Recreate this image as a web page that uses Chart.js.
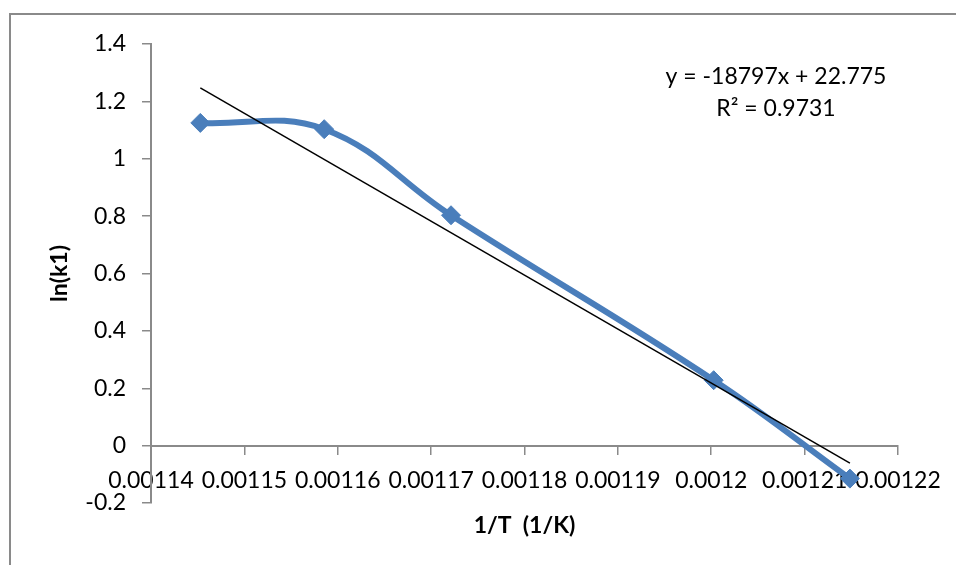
<!DOCTYPE html>
<html>
<head>
<meta charset="utf-8">
<script src="https://cdn.jsdelivr.net/npm/chart.js@4.4.1/dist/chart.umd.min.js"></script>
<style>
  html, body { margin: 0; padding: 0; background: #ffffff; }
  #wrap { position: relative; width: 956px; height: 565px; overflow: hidden; }
  #frame { position: absolute; left: 9px; top: 13px; width: 1000px; height: 600px;
           border-left: 2px solid #8a8a8a; border-top: 2px solid #8a8a8a; }
  canvas { position: absolute; left: 0; top: 0; }
</style>
</head>
<body>
<div id="wrap">
  <div id="frame"></div>
  <canvas id="c" width="956" height="565"></canvas>
</div>
<script>
// ---- data ----
const invT = [0.00114528, 0.00115855, 0.00117213, 0.00120026, 0.00121485]; // 1/T (1/K)
const lnK1 = [1.125, 1.103, 0.803, 0.228, -0.115];                      // ln(k1)
const trendX = [0.00114528, 0.00121485];                                 // linear trendline ends
const trendY = [1.247, -0.061];
const xTickLabels = ['0.00114', '0.00115', '0.00116', '0.00117', '0.00118', '0.00119', '0.0012', '0.00121', '0.00122'];
const yTickLabels = ['-0.2', '0', '0.2', '0.4', '0.6', '0.8', '1', '1.2', '1.4'];
const equationText = 'y = -18797x + 22.775';
const r2Text = 'R² = 0.9731';
const xTitle = '1/T  (1/K)';
const yTitle = 'ln(k1)';

const FONT = 'Lato, "Open Sans", sans-serif';
const AXIS_GRAY = '#8a8a8a';
const BLUE = '#4a7ebb';

const dataPoints = invT.map((x, i) => ({ x: x, y: lnK1[i] }));
const trendPoints = trendX.map((x, i) => ({ x: x, y: trendY[i] }));

const annotationPlugin = {
  id: 'eqLabel',
  afterDraw(chart) {
    const ctx = chart.ctx;
    const a = chart.chartArea;
    ctx.save();
    ctx.fillStyle = '#000';
    ctx.font = '23px ' + FONT;
    ctx.textAlign = 'center';
    ctx.textBaseline = 'middle';
    ctx.fillText(equationText, a.right - 122, a.top + 33);
    ctx.fillText(r2Text, a.right - 122, a.top + 65);
    ctx.restore();
  }
};

new Chart(document.getElementById('c'), {
  type: 'scatter',
  data: {
    datasets: [
      {
        label: 'Linear',
        data: trendPoints,
        showLine: true,
        borderColor: '#000000',
        borderWidth: 1.5,
        pointRadius: 0,
        tension: 0,
        order: 0
      },
      {
        label: 'ln(k1)',
        data: dataPoints,
        showLine: true,
        borderColor: BLUE,
        borderWidth: 6,
        tension: 0.4,
        pointStyle: 'rectRot',
        pointRadius: 9.5,
        pointBackgroundColor: BLUE,
        pointBorderColor: BLUE,
        pointBorderWidth: 1,
        order: 1
      }
    ]
  },
  options: {
    responsive: false,
    devicePixelRatio: 1,
    animation: false,
    layout: { padding: { left: 0, top: 44, right: 58, bottom: 62 } },
    plugins: {
      legend: { display: false },
      tooltip: { enabled: false }
    },
    scales: {
      x: {
        type: 'linear',
        position: { y: 0 },
        min: 0.00114,
        max: 0.00122,
        grid: { display: true, drawOnChartArea: false, drawTicks: true, tickLength: 8, color: AXIS_GRAY, lineWidth: 1.5 },
        border: { display: true, color: AXIS_GRAY, width: 2 },
        ticks: {
          stepSize: 0.00001,
          autoSkip: false,
          maxRotation: 0,
          minRotation: 0,
          padding: 13,
          color: '#000',
          font: { family: FONT, size: 23 },
          callback: (v, i) => xTickLabels[i]
        },
        title: {
          display: true,
          text: xTitle,
          color: '#000',
          font: { family: FONT, size: 23, weight: 'bold' },
          padding: { top: 5, bottom: 0 }
        }
      },
      y: {
        type: 'linear',
        position: 'left',
        min: -0.2,
        max: 1.4,
        afterFit: (s) => { s.width = 151; },
        grid: { display: true, drawOnChartArea: false, drawTicks: true, tickLength: 9, color: AXIS_GRAY, lineWidth: 1.5 },
        border: { display: true, color: AXIS_GRAY, width: 2 },
        ticks: {
          stepSize: 0.2,
          padding: 16,
          color: '#000',
          font: { family: FONT, size: 23 },
          callback: (v, i) => yTickLabels[i]
        },
        title: {
          display: true,
          text: yTitle,
          color: '#000',
          font: { family: FONT, size: 23, weight: 'bold' },
          padding: { top: 46, bottom: 0 }
        }
      }
    }
  },
  plugins: [annotationPlugin]
});
</script>
</body>
</html>
